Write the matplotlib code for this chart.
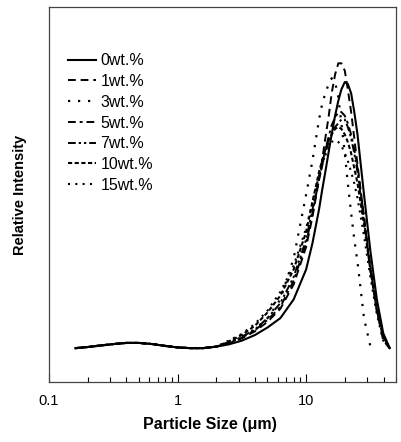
import numpy as np
import matplotlib
matplotlib.use('Agg')
from matplotlib import pyplot as plt

plt.rcParams['font.family'] = ['Liberation Sans', 'DejaVu Sans']

# particle size grid (um)
size = [0.16, 0.2, 0.25, 0.32, 0.4, 0.5, 0.63, 0.8, 1.0, 1.26, 1.58, 2.0,
        2.5, 3.16, 4.0, 5.0, 6.3, 8.0, 10.0, 11.2,
        12.6, 13.3, 14.1, 15.0, 15.8, 16.8, 17.8, 18.8, 20.0, 21.1, 22.4, 23.7, 25.1,
        28.2, 31.6, 35.5, 39.8, 44.7]

base = [9.0, 9.3, 9.7, 10.1, 10.4, 10.4, 10.1, 9.6, 9.2, 9.0, 9.0, 9.4]

wt0 = base + [10.0, 11.0, 12.5, 14.5, 17.0, 22.0, 30.0, 37.0,
              46.0, 51.0, 56.0, 61.5, 66.0, 71.0, 75.0, 78.0, 80.0, 79.5, 77.0, 72.0, 66.0,
              50.0, 35.0, 22.0, 13.0, 9.0]
wt1 = base + [10.3, 11.6, 13.5, 16.0, 19.5, 26.0, 36.0, 44.0,
              54.0, 59.0, 65.0, 71.0, 77.0, 82.0, 85.0, 85.0, 83.0, 78.0, 72.0, 65.0, 58.0,
              44.0, 30.0, 19.0, 11.0, 9.0]
wt3 = base + [10.5, 12.0, 14.0, 17.0, 22.0, 33.0, 50.0, 59.0,
              70.0, 74.0, 77.0, 79.5, 81.0, 80.0, 76.0, 69.0, 61.0, 53.0, 45.0, 38.0, 32.0,
              17.0, 9.5]
wt5 = base + [10.4, 11.8, 13.8, 16.5, 20.0, 27.0, 37.0, 45.0,
              54.0, 58.0, 62.0, 65.5, 68.5, 70.5, 72.0, 72.0, 71.0, 69.0, 66.0, 62.0, 57.0,
              44.0, 31.0, 20.0, 12.0, 9.0]
wt7 = base + [10.5, 12.0, 14.0, 17.0, 21.0, 28.0, 38.0, 46.0,
              54.0, 57.5, 61.0, 64.0, 66.0, 68.0, 69.0, 70.0, 70.0, 68.0, 65.0, 61.0, 56.0,
              43.0, 30.0, 19.0, 12.0, 9.0]
wt10 = base + [10.8, 12.5, 15.0, 18.5, 23.0, 30.0, 40.0, 48.0,
               56.0, 59.0, 62.0, 64.5, 66.0, 67.5, 68.0, 67.5, 66.0, 64.0, 61.0, 57.0, 53.0,
               42.0, 30.0, 19.0, 12.0, 9.0]
wt15 = base + [11.0, 12.8, 15.5, 19.0, 24.0, 31.0, 41.0, 48.0,
               55.0, 58.0, 60.5, 62.5, 64.0, 64.5, 64.0, 63.0, 61.0, 59.0, 56.0, 53.0, 49.0,
               39.0, 28.0, 18.0, 11.0, 9.0]

labels = ['0wt.%', '1wt.%', '3wt.%', '5wt.%', '7wt.%', '10wt.%', '15wt.%']
series = [wt0, wt1, wt3, wt5, wt7, wt10, wt15]
styles = ['-', (0, (4, 2.5)), (0, (1, 3.5)), (0, (4, 2, 1.5, 2)),
          (0, (4, 1.5, 1.2, 1.5, 1.2, 1.5)), (0, (2, 1.2)), (0, (1, 2.5))]
widths = [1.5, 1.4, 1.6, 1.4, 1.4, 1.5, 1.5]

fig = plt.figure(figsize=(4.02, 4.42), dpi=100)
ax = fig.add_axes([0.122, 0.136, 0.863, 0.848])

for y, lab, ls, lw in zip(series, labels, styles, widths):
    ax.plot(size[:len(y)], y, color='black', linestyle=ls, linewidth=lw, label=lab)

ax.set_xscale('log')
ax.set_xlim(0.1, 50)
ax.set_ylim(0, 100)
ax.set_yticks([])
ax.set_xticks([0.1, 1, 10])
ax.set_xticklabels(['0.1', '1', '10'])
ax.tick_params(axis='x', which='major', direction='in', length=6, width=0.8,
               labelsize=10.5, pad=9)
ax.tick_params(axis='x', which='minor', direction='in', length=3.5, width=0.8)
for sp in ax.spines.values():
    sp.set_linewidth(0.9)
    sp.set_color('#444444')

ax.set_xlabel('Particle Size (μm)', fontsize=11.5, fontweight='bold')
ax.xaxis.set_label_coords(0.465, -0.095)
ax.set_ylabel('Relative Intensity', fontsize=10.5, fontweight='bold', labelpad=16)

ax.legend(loc='upper left', bbox_to_anchor=(0.012, 0.915), frameon=False,
          fontsize=11.5, handlelength=1.75, handletextpad=0.3, labelspacing=0.36)

fig.savefig('out.png', dpi=100)
